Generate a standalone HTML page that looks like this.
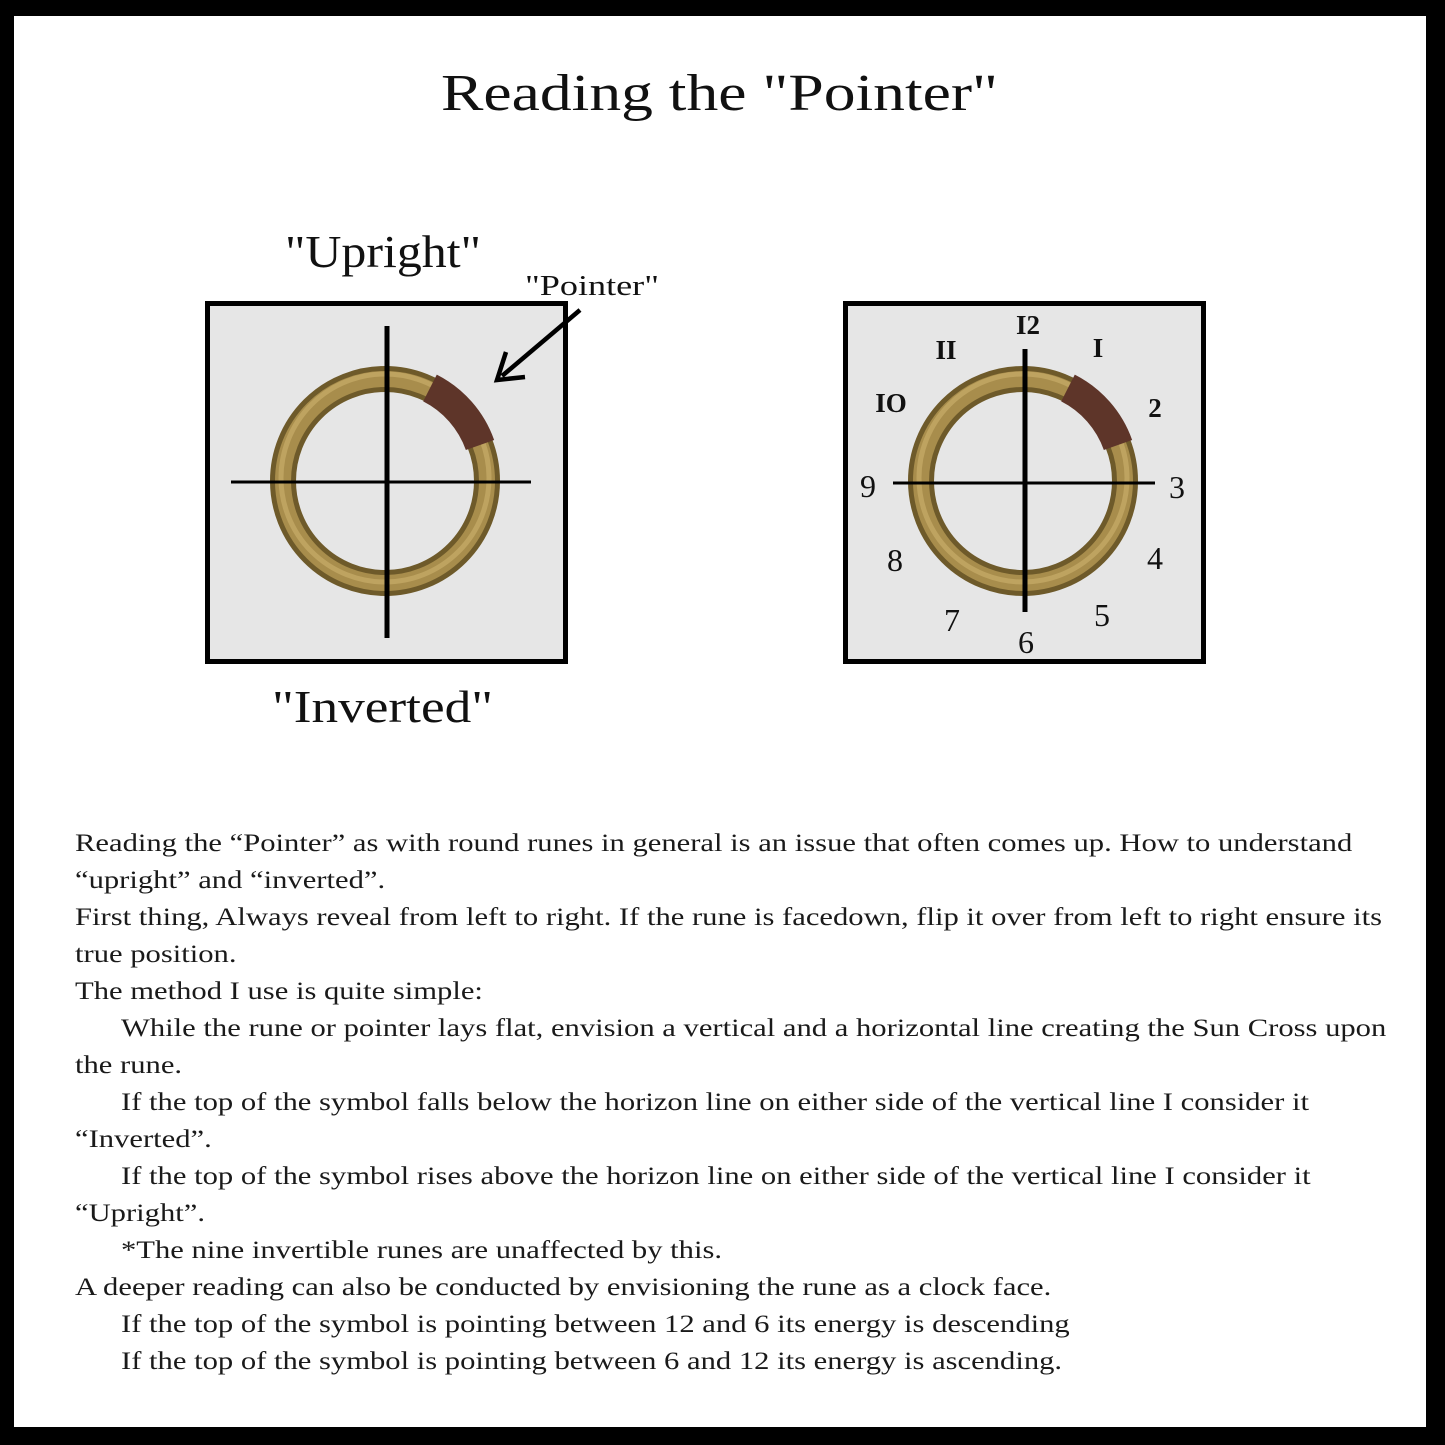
<!DOCTYPE html>
<html><head><meta charset="utf-8"><style>
html,body{margin:0;padding:0;background:#000;}
#p{position:relative;width:1445px;height:1445px;background:#000;overflow:hidden;}
#w{position:absolute;left:14px;top:16px;width:1412px;height:1411px;background:#fff;}
svg{position:absolute;left:0;top:0;}
#t{position:absolute;left:75px;top:824px;width:1340px;font-family:"Liberation Serif",serif;font-size:25.5px;line-height:37px;color:#1a1a1a;}
#t div{white-space:nowrap;transform:scaleX(1.2);transform-origin:0 0;}
#t div.i{transform:translateX(46px) scaleX(1.2);}
</style></head><body><div id="p"><div id="w"></div>
<svg width="1445" height="1445" viewBox="0 0 1445 1445" font-family="Liberation Serif, serif">
<text x="441" y="110" font-size="52" textLength="557" lengthAdjust="spacingAndGlyphs" fill="#111">Reading the "Pointer"</text>
<text x="285" y="267" font-size="46" textLength="196" lengthAdjust="spacingAndGlyphs" fill="#111">"Upright"</text>
<text x="272" y="722" font-size="46" textLength="221" lengthAdjust="spacingAndGlyphs" fill="#111">"Inverted"</text>
<text x="525" y="295" font-size="28" textLength="134" lengthAdjust="spacingAndGlyphs" fill="#111">"Pointer"</text>
<rect x="207.5" y="303.5" width="358" height="358" fill="#e6e6e6" stroke="#000" stroke-width="5"/>
<circle cx="385" cy="481" r="102" fill="none" stroke="#6e5a2a" stroke-width="26"/>
<circle cx="385" cy="481" r="102" fill="none" stroke="#a88d4c" stroke-width="16"/>
<circle cx="385" cy="478" r="104" fill="none" stroke="#c7ad6a" stroke-width="5" opacity="0.7"/>
<path d="M430 388 A102 102 0 0 1 480 445" fill="none" stroke="#5e3529" stroke-width="30"/>
<line x1="231" y1="482" x2="531" y2="482" stroke="#000" stroke-width="3"/>
<line x1="387" y1="326" x2="387" y2="638" stroke="#000" stroke-width="5"/>
<line x1="580" y1="310" x2="502" y2="376" stroke="#000" stroke-width="4.5"/>
<polyline points="506,352 497,380 525,377" fill="none" stroke="#000" stroke-width="4.5"/>
<rect x="845.5" y="303.5" width="358" height="358" fill="#e6e6e6" stroke="#000" stroke-width="5"/>
<circle cx="1023" cy="481" r="102" fill="none" stroke="#6e5a2a" stroke-width="26"/>
<circle cx="1023" cy="481" r="102" fill="none" stroke="#a88d4c" stroke-width="16"/>
<circle cx="1023" cy="478" r="104" fill="none" stroke="#c7ad6a" stroke-width="5" opacity="0.7"/>
<path d="M1068 388 A102 102 0 0 1 1118 445" fill="none" stroke="#5e3529" stroke-width="30"/>
<line x1="893" y1="483" x2="1155" y2="483" stroke="#000" stroke-width="3"/>
<line x1="1025" y1="349" x2="1025" y2="612" stroke="#000" stroke-width="5"/>
<g font-size="32" text-anchor="middle" fill="#111">
<text x="1028" y="334" font-size="27" font-weight="bold">I2</text>
<text x="1098" y="357" font-size="27" font-weight="bold">I</text>
<text x="946" y="359" font-size="27" font-weight="bold">II</text>
<text x="891" y="412" font-size="27" font-weight="bold">IO</text>
<text x="1155" y="417" font-size="27" font-weight="bold">2</text>
<text x="868" y="497">9</text>
<text x="1177" y="498">3</text>
<text x="895" y="571">8</text>
<text x="1155" y="569">4</text>
<text x="952" y="631">7</text>
<text x="1102" y="626">5</text>
<text x="1026" y="653">6</text>
</g>
</svg>
<div id="t">
<div>Reading the “Pointer” as with round runes in general is an issue that often comes up. How to understand</div>
<div>“upright” and “inverted”.</div>
<div>First thing, Always reveal from left to right. If the rune is facedown, flip it over from left to right ensure its</div>
<div>true position.</div>
<div>The method I use is quite simple:</div>
<div class="i">While the rune or pointer lays flat, envision a vertical and a horizontal line creating the Sun Cross upon</div>
<div>the rune.</div>
<div class="i">If the top of the symbol falls below the horizon line on either side of the vertical line I consider it</div>
<div>“Inverted”.</div>
<div class="i">If the top of the symbol rises above the horizon line on either side of the vertical line I consider it</div>
<div>“Upright”.</div>
<div class="i">*The nine invertible runes are unaffected by this.</div>
<div>A deeper reading can also be conducted by envisioning the rune as a clock face.</div>
<div class="i">If the top of the symbol is pointing between 12 and 6 its energy is descending</div>
<div class="i">If the top of the symbol is pointing between 6 and 12 its energy is ascending.</div>
</div>
</div></body></html>
